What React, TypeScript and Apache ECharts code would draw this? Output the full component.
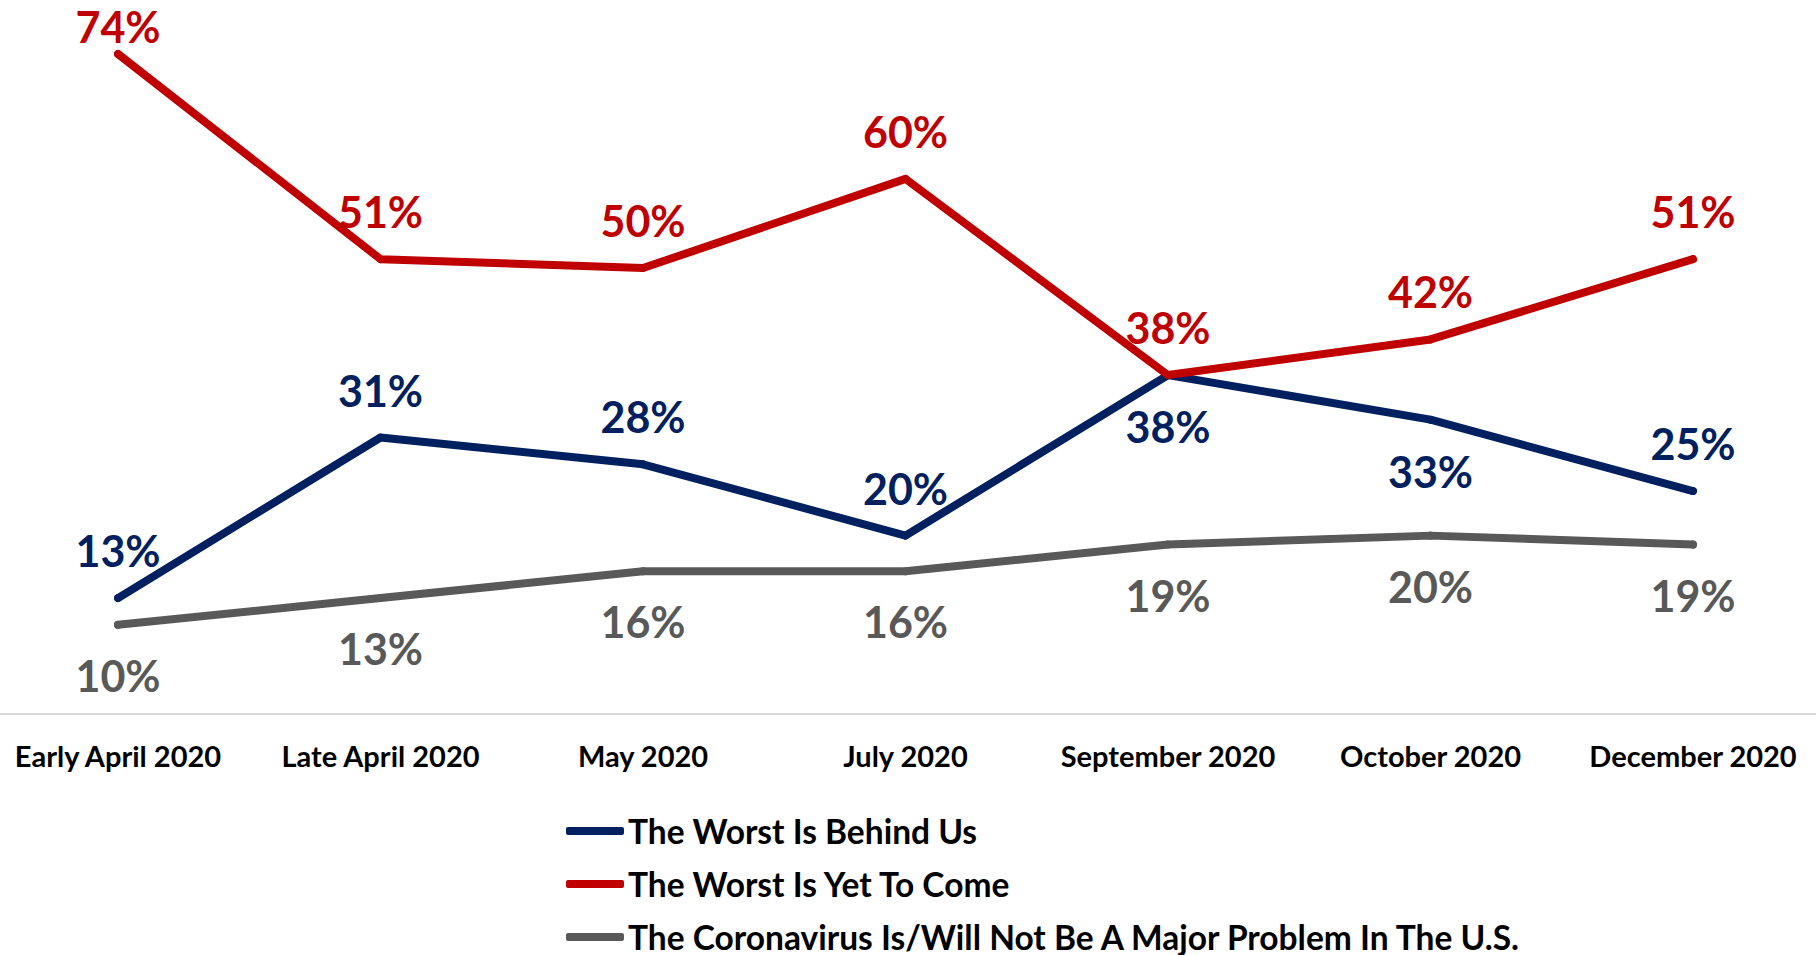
import React, { useEffect, useRef } from "react";
import * as echarts from "echarts";

const categories = [
  "Early April 2020",
  "Late April 2020",
  "May 2020",
  "July 2020",
  "September 2020",
  "October 2020",
  "December 2020",
];
const behindUs = [13, 31, 28, 20, 38, 33, 25];
const yetToCome = [74, 51, 50, 60, 38, 42, 51];
const notMajor = [10, 13, 16, 16, 19, 20, 19];
// label placement per point for the blue series
const behindPos = ["top", "top", "top", "top", "bottom", "bottom", "top"];
const legendNames = [
  "The Worst Is Behind Us",
  "The Worst Is Yet To Come",
  "The Coronavirus Is/Will Not Be A Major Problem In The U.S.",
];

const FONT = "Lato";
const BLUE = "#002060";
const RED = "#C00000";
const GRAY = "#595959";

export default function App() {
  const ref = useRef<HTMLDivElement>(null);
  useEffect(() => {
    if (!ref.current) return;
    const chart = echarts.init(ref.current, null, { renderer: "svg" });
    const labelBase = {
      show: true,
      formatter: "{c}%",
      fontFamily: FONT,
      fontWeight: "bold",
      fontSize: 43,
    };
    chart.setOption({
      animation: false,
      textStyle: { fontFamily: FONT },
      grid: { left: 118, right: 123, top: 0.5, bottom: 241, containLabel: false },
      graphic: [
        {
          type: "line",
          shape: { x1: 0, y1: 714, x2: 1816, y2: 714 },
          style: { stroke: "#d9d9d9", lineWidth: 2 },
          z: 0,
        },
      ],
      xAxis: {
        type: "category",
        data: categories,
        boundaryGap: false,
        axisLine: { show: false },
        axisTick: { show: false },
        axisLabel: {
          interval: 0,
          color: "#000",
          fontFamily: FONT,
          fontWeight: "bold",
          fontSize: 29,
          margin: 27,
        },
      },
      yAxis: {
        type: "value",
        min: 0,
        max: 80,
        show: false,
        splitLine: { show: false },
      },
      legend: {
        orient: "vertical",
        left: 566,
        top: 814,
        width: 1200,
        height: 300,
        padding: 0,
        itemWidth: 58,
        itemHeight: 8,
        itemGap: 19,
        icon: "roundRect",
        textStyle: {
          color: "#000",
          fontFamily: FONT,
          fontWeight: "bold",
          fontSize: 33.5,
          lineHeight: 33,
          padding: [0, 0, 0, -1],
        },
        data: legendNames,
      },
      series: [
        {
          name: legendNames[0],
          type: "line",
          data: behindUs.map((v, i) => ({
            value: v,
            label: {
              position: behindPos[i],
              distance: behindPos[i] === "top" ? 22 : 26,
            },
          })),
          symbol: "circle",
          symbolSize: 8,
          color: BLUE,
          lineStyle: { color: BLUE, width: 8, cap: "round", join: "round" },
          itemStyle: { color: BLUE },
          label: { ...labelBase, color: BLUE },
          z: 3,
        },
        {
          name: legendNames[1],
          type: "line",
          data: yetToCome.map((v, i) => ({
            value: v,
            label: { position: "top", distance: i === 0 ? 2 : 22 },
          })),
          symbol: "circle",
          symbolSize: 8,
          color: RED,
          lineStyle: { color: RED, width: 8, cap: "round", join: "round" },
          itemStyle: { color: RED },
          label: { ...labelBase, color: RED },
          z: 4,
        },
        {
          name: legendNames[2],
          type: "line",
          data: notMajor,
          symbol: "circle",
          symbolSize: 8,
          color: GRAY,
          lineStyle: { color: GRAY, width: 8, cap: "round", join: "round" },
          itemStyle: { color: GRAY },
          label: { ...labelBase, color: GRAY, position: "bottom", distance: 25 },
          z: 2,
        },
      ],
    });
    return () => chart.dispose();
  }, []);
  return (
    <div
      ref={ref}
      style={{ position: "fixed", left: 0, top: 0, width: 1816, height: 955, background: "#fff" }}
    />
  );
}
